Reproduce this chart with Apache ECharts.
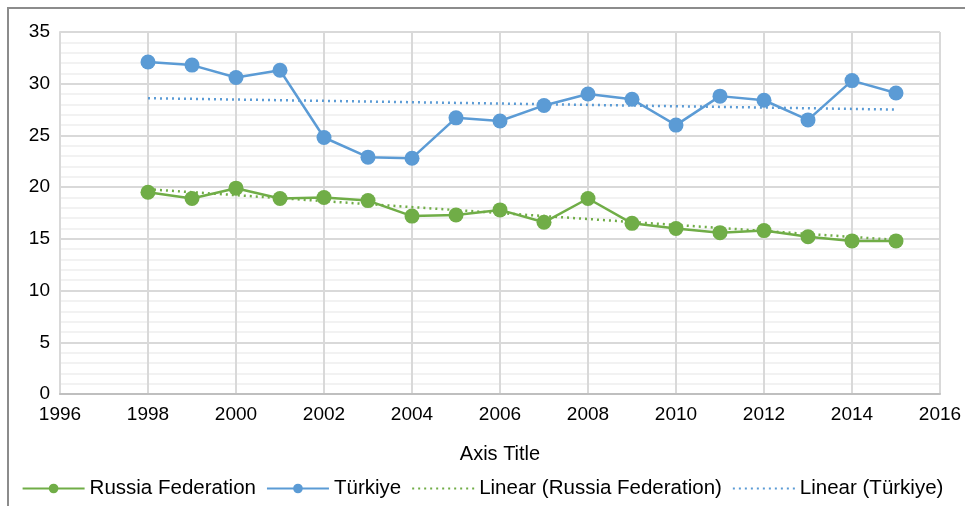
<!DOCTYPE html>
<html>
<head>
<meta charset="utf-8">
<script src="https://cdn.jsdelivr.net/npm/echarts@6/dist/echarts.min.js"></script>
<style>
  html, body { margin: 0; padding: 0; background: #fff; }
  #chart { width: 965px; height: 506px; }
</style>
</head>
<body>
<div id="chart"></div>
<script>
// values
const years = [1998, 1999, 2000, 2001, 2002, 2003, 2004, 2005, 2006, 2007, 2008, 2009, 2010, 2011, 2012, 2013, 2014, 2015]
const russia = [19.5, 18.9, 19.9, 18.9, 19.0, 18.7, 17.2, 17.3, 17.8, 16.6, 18.9, 16.5, 16.0, 15.6, 15.8, 15.2, 14.8, 14.8]
const turkiye = [32.1, 31.8, 30.6, 31.3, 24.8, 22.9, 22.8, 26.7, 26.4, 27.9, 29.0, 28.5, 26.0, 28.8, 28.4, 26.5, 30.3, 29.1]
// trend line end points
const trendYears = [1998, 2015]
const russiaTrend = [19.8, 14.9]
const turkiyeTrend = [28.6, 27.5]

const green = '#70ad47'
const blue = '#5b9bd5'

function pairs(xs, ys) {
  return xs.map((x, i) => [x, ys[i]])
}

const chart = echarts.init(document.getElementById('chart'), null, { renderer: 'canvas' })

const font = 'Liberation Sans, Arial, sans-serif'

chart.setOption({
  animation: false,
  textStyle: { fontFamily: font },
  graphic: [{
    type: 'rect',
    shape: { x: 8, y: 8, width: 1000, height: 600 },
    style: { fill: 'none', stroke: '#8c8c8c', lineWidth: 2 },
    silent: true
  }],
  grid: { left: 60, right: 25, top: 32, bottom: 112 },
  xAxis: {
    type: 'value',
    min: 1996,
    max: 2016,
    interval: 2,
    name: 'Axis Title',
    nameLocation: 'middle',
    nameGap: 50,
    nameTextStyle: { fontSize: 20, color: '#000', fontFamily: font },
    axisLine: { lineStyle: { color: '#bfbfbf', width: 2 } },
    axisTick: { show: false },
    axisLabel: { fontSize: 19, color: '#000', margin: 11, fontFamily: font, formatter: v => String(v) },
    splitLine: { show: true, lineStyle: { color: '#d9d9d9', width: 2 } }
  },
  yAxis: {
    type: 'value',
    min: 0,
    max: 35,
    interval: 5,
    axisLine: { show: true, lineStyle: { color: '#d9d9d9', width: 2 } },
    axisTick: { show: false },
    axisLabel: { fontSize: 19, color: '#000', margin: 10, fontFamily: font },
    splitLine: { show: true, lineStyle: { color: '#d9d9d9', width: 2 } },
    minorTick: { show: false, splitNumber: 5 },
    minorSplitLine: { show: true, lineStyle: { color: '#f2f2f2', width: 2 } }
  },
  legend: {
    bottom: 2,
    left: 'center',
    itemWidth: 62,
    itemHeight: 12,
    itemGap: 10,
    textStyle: { fontSize: 20.5, color: '#000', fontFamily: font },
    data: [
      'Russia Federation',
      'Türkiye',
      { name: 'Linear (Russia Federation)', itemStyle: { opacity: 0 } },
      { name: 'Linear (Türkiye)', itemStyle: { opacity: 0 } }
    ]
  },
  series: [
    {
      name: 'Russia Federation',
      type: 'line',
      data: pairs(years, russia),
      symbol: 'circle',
      symbolSize: 15,
      lineStyle: { color: green, width: 2.5 },
      itemStyle: { color: green },
      z: 3
    },
    {
      name: 'Türkiye',
      type: 'line',
      data: pairs(years, turkiye),
      symbol: 'circle',
      symbolSize: 15,
      lineStyle: { color: blue, width: 2.5 },
      itemStyle: { color: blue },
      z: 3
    },
    {
      name: 'Linear (Russia Federation)',
      type: 'line',
      data: pairs(trendYears, russiaTrend),
      symbol: 'none',
      lineStyle: { color: green, width: 2.5, type: [2, 4] },
      itemStyle: { color: green },
      z: 2
    },
    {
      name: 'Linear (Türkiye)',
      type: 'line',
      data: pairs(trendYears, turkiyeTrend),
      symbol: 'none',
      lineStyle: { color: blue, width: 2.5, type: [2, 4] },
      itemStyle: { color: blue },
      z: 2
    }
  ]
})
</script>
</body>
</html>
